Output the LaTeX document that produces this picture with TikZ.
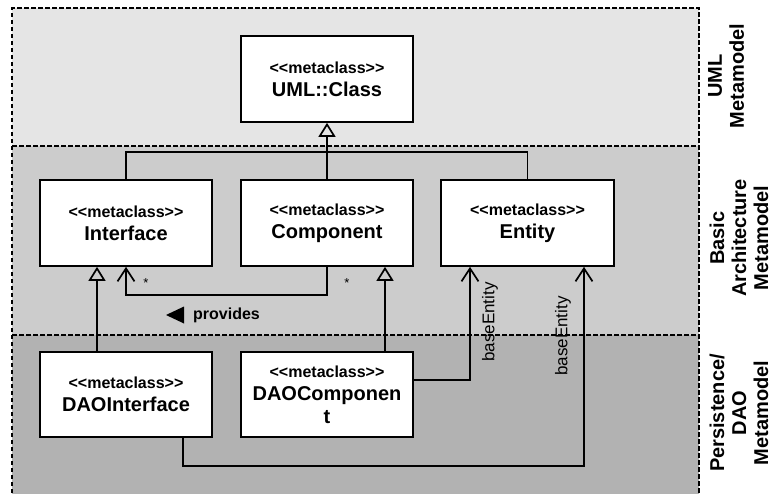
\documentclass[tikz,border=0pt]{standalone}
\usepackage{fontspec}
\setmainfont{Liberation Sans}
\usetikzlibrary{arrows.meta}

% stereotype line above each class name
\newcommand\stereo{{\fontsize{16}{23}\selectfont <{}<metaclass>{}>}}

\begin{document}
\begin{tikzpicture}[x=1pt,y=-1pt,
  cls/.style={draw, line width=1.7pt, fill=white, minimum width=172pt,
    minimum height=86pt, inner sep=2pt, align=center,
    font=\bfseries\fontsize{20}{23}\selectfont},
  conn/.style={line width=1.7pt},
  gen/.style={conn, -{Triangle[open,length=14pt,width=17pt,line width=1.7pt]}},
  assoc/.style={conn, -{Straight Barb[length=13pt,width=17pt,line width=1.7pt]}},
  framel/.style={line width=1.3pt, dash pattern=on 4.5pt off 2.5pt},
  lane/.style={rotate=90, align=center, inner sep=0pt, font=\bfseries\fontsize{20}{22}\selectfont},
  rolename/.style={rotate=90, inner sep=0pt, font=\fontsize{17}{18}\selectfont},
  mult/.style={inner sep=0pt, font=\fontsize{13}{13}\selectfont},
]
\useasboundingbox (0,0) rectangle (774,493);

% layer backgrounds
\fill[black!10] (12,8) rectangle (699,146);
\fill[black!20] (12,146) rectangle (699,335);
\fill[black!30] (12,335) rectangle (699,500);
\draw[framel] (12,500) -- (12,8) -- (699,8) -- (699,500);
\draw[framel] (12,146) -- (699,146);
\draw[framel] (12,335) -- (699,335);

% classes
\node[cls] (uml) at (327,79) {\stereo\\UML::Class};
\node[cls] (iface) at (126,223) {\stereo\\Interface};
\node[cls] (comp) at (327,223) {\stereo\\Component};
\node[cls, minimum width=173pt] (entity) at (527.5,223) {\stereo\\Entity};
\node[cls, minimum height=85pt] (daoi) at (126,394.5) {\stereo\\DAOInterface};
\node[cls, minimum height=85pt] (daoc) at (327,394.5) {\stereo\\DAOComponen\\t};

% generalizations
\draw[conn] (iface.north) |- (entity.north |- 0,152) -- (entity.north);
\draw[gen] (comp.north) -- (uml.south);
\draw[gen] ([xshift=-29pt]daoi.north) -- ([xshift=-29pt]iface.south);
\draw[gen] ([xshift=58pt]daoc.north) -- ([xshift=58pt]comp.south);

% associations
\draw[assoc] (comp.south) -- ++(0,28) -| (iface.south);
\coordinate (be1) at ([xshift=-57.5pt]entity.south);
\coordinate (be2) at ([xshift=56.5pt]entity.south);
\draw[assoc] (daoc.east |- 0,380) -| (be1);
\draw[assoc] ([xshift=57pt]daoi.south) |- (be2 |- 0,466) -- (be2);

% association labels
\node[mult] (m1) at (146,283) {*};
\node[mult] (m2) at (347,283) {*};
\node[inner sep=0pt, anchor=west, font=\bfseries\fontsize{16}{18}\selectfont] (prov) at (193,315) {provides};
\fill ([xshift=-9pt]prov.west) -- ++(0,-8.5) -- ++(-18,8.5) -- ++(18,8.5) -- cycle;
\node[rolename] (r1) at (490,322) {baseEntity};
\node[rolename] (r2) at (563,336) {baseEntity};

% layer names
\node[lane] (l1) at (726,76) {UML\\Metamodel};
\node[lane] (l2) at (739,238) {Basic\\Architecture\\Metamodel};
\node[lane] (l3) at (739,413) {Persistence/\\DAO\\Metamodel};
\end{tikzpicture}
\end{document}
